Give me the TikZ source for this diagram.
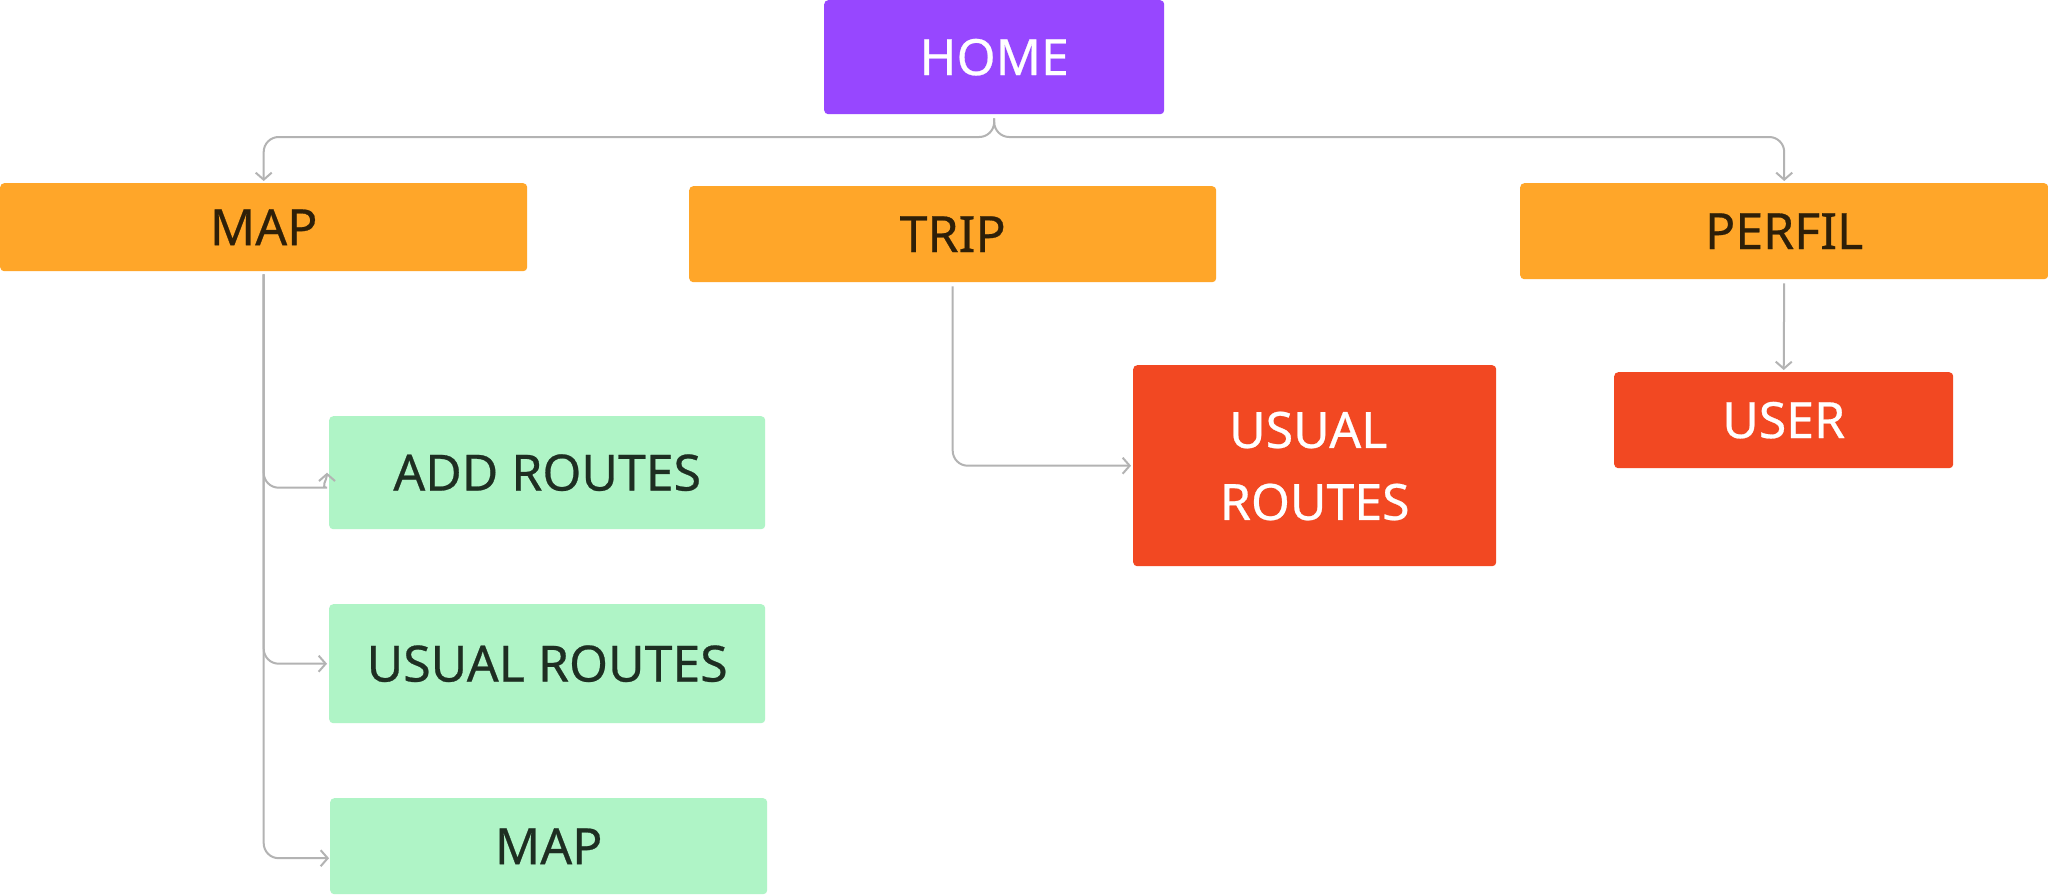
\documentclass[tikz,border=0pt]{standalone}
\usepackage{fontspec}
\setmainfont{Noto Sans}[FakeBold=0.5]
\usetikzlibrary{arrows.meta,calc}
\definecolor{cpurple}{HTML}{9747FF}
\definecolor{corange}{HTML}{FFA629}
\definecolor{cred}{HTML}{F24822}
\definecolor{cgreen}{HTML}{AFF4C6}
\definecolor{cline}{HTML}{B3B3B3}
\definecolor{cdark}{HTML}{1E2E22}
\definecolor{cbrown}{HTML}{2E1F08}
\tikzset{
  box/.style={rounded corners=4pt, anchor=north west, inner sep=0pt,
    font=\fontsize{50}{72}\selectfont, align=center},
  conn/.style={draw=cline, line width=2pt, rounded corners=15pt,
    -{Straight Barb[length=7pt,width=16pt,line width=2pt]}},
}
\begin{document}
\begin{tikzpicture}[x=1pt,y=-1pt]
\useasboundingbox (0,0) rectangle (2048,895);
\fill[white] (0,0) rectangle (2048,895);
\node[box, fill=cpurple, text=white, minimum width=340pt, minimum height=114pt] (home) at (824,0) {HOME};
\node[box, fill=corange, text=cbrown, minimum width=527pt, minimum height=88pt] (mapo) at (0,183) {MAP};
\node[box, fill=corange, text=cbrown, minimum width=527pt, minimum height=96pt] (trip) at (689,186) {TRIP};
\node[box, fill=corange, text=cbrown, minimum width=528pt, minimum height=96pt] (perfil) at (1520,183) {PERFIL};
\node[box, fill=cred, text=white, minimum width=339pt, minimum height=96pt] (user) at (1614,372) {USER};
\node[box, fill=cred, text=white, minimum width=363pt, minimum height=201pt] (ured) at (1133,365) {USUAL\phantom{i}\\ROUTES};
\node[box, fill=cgreen, text=cdark, minimum width=436pt, minimum height=113pt] (addr) at (329,416) {ADD ROUTES};
\node[box, fill=cgreen, text=cdark, minimum width=436pt, minimum height=119pt] (ugreen) at (329,604) {USUAL ROUTES};
\node[box, fill=cgreen, text=cdark, minimum width=437pt, minimum height=96pt] (mapg) at (330,798) {MAP};
% HOME branches
\draw[conn] ([yshift=-4pt]home.south) |- ([yshift=46pt]mapo.north) -- ([yshift=2pt]mapo.north);
\draw[conn] ([yshift=-4pt]home.south) |- ([yshift=46pt]perfil.north) -- ([yshift=2pt]perfil.north);
% TRIP -> USUAL ROUTES
\draw[conn] ([yshift=-4pt]trip.south) |- ([xshift=-2pt]ured.west);
% PERFIL -> USER
\draw[conn] ([yshift=-4pt]perfil.south) -- ([yshift=2pt]user.north);
% MAP -> children
\draw[conn] ([yshift=-3pt]mapo.south) |- ([xshift=-2pt]ugreen.west);
\draw[conn] ([yshift=-3pt]mapo.south) |- ([xshift=-1pt,yshift=-12pt]mapg.west);
\draw[conn] ([yshift=-3pt]mapo.south) |- ([xshift=-17pt,yshift=-15pt]addr.west)
  .. controls ([xshift=-8.7pt,yshift=-15pt]addr.west) and ([xshift=-2pt,yshift=-6.7pt]addr.west) .. ([xshift=-2pt]addr.west);
\end{tikzpicture}
\end{document}
